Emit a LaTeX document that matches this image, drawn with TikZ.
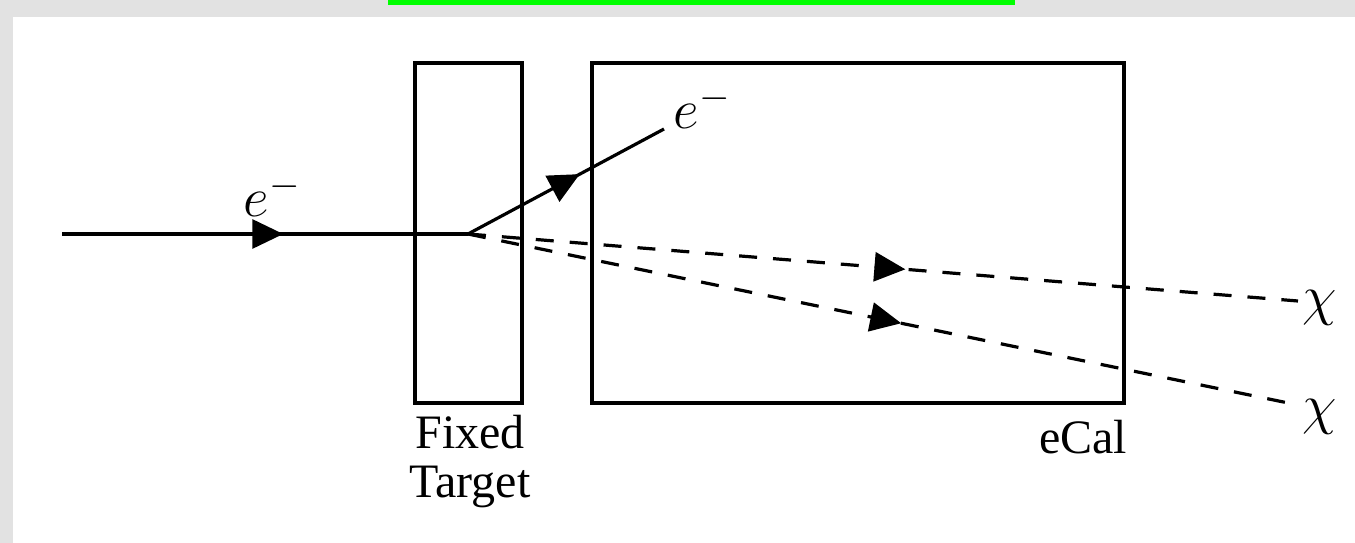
\documentclass[tikz,border=0pt]{standalone}
\usepackage{fix-cm}
\usepackage{fontspec}
\setmainfont{Liberation Serif}
\usetikzlibrary{arrows.meta,decorations.markings}
\definecolor{bggray}{RGB}{226,226,226}
\definecolor{topgreen}{RGB}{0,255,0}
\tikzset{
  box/.style={draw=black,line width=3.2pt},
  particle/.style={line width=3.2pt},
  dsh/.style={line width=3.2pt,dash pattern=on 18pt off 16pt},
  midarrow/.style={postaction={decorate},decoration={markings,
     mark=at position #1 with {\arrow{Triangle[length=31pt,width=29pt]}}}},
  lbl/.style={inner sep=0pt,font=\fontsize{48}{52}\selectfont},
  mlbl/.style={inner sep=0pt,font=\fontsize{56}{60}\selectfont},
}
\begin{document}
\begin{tikzpicture}[x=1pt,y=-1pt]
\useasboundingbox (0,0) rectangle (1355,543);
\fill[bggray] (0,0) rectangle (1355,543);
\fill[white] (13,17) rectangle (1355,543);
\fill[topgreen] (388,0) rectangle (1015,5);
% boxes
\draw[box] (415,63) rectangle (522,403);
\draw[box] (592,63) rectangle (1124,403);
% coordinates
\coordinate (start) at (62,234);
\coordinate (vtx) at (468,234);
\coordinate (eend) at (664,129);
\coordinate (c1) at (1298,301);
\coordinate (c2) at (1298,405);
% particle lines
\draw[particle,midarrow=0.545] (start) -- (vtx);
\draw[particle,midarrow=0.57] (vtx) -- (eend);
\draw[dsh,midarrow=0.527] (vtx) -- (c1);
\draw[dsh,midarrow=0.522] (vtx) -- (c2);
% labels
\node[mlbl] (lab1) at (272,195) {$e^-$};
\node[mlbl] (lab2) at (702,107) {$e^-$};
\node[mlbl,anchor=west] (chi1) at (1302,308) {$\chi$};
\node[mlbl,anchor=west] (chi2) at (1302,417) {$\chi$};
\node[lbl,align=center] (ft) at (470,462) {Fixed\\[-3pt]Target};
\node[lbl] (ecal) at (1083,437) {eCal};
\end{tikzpicture}
\end{document}
